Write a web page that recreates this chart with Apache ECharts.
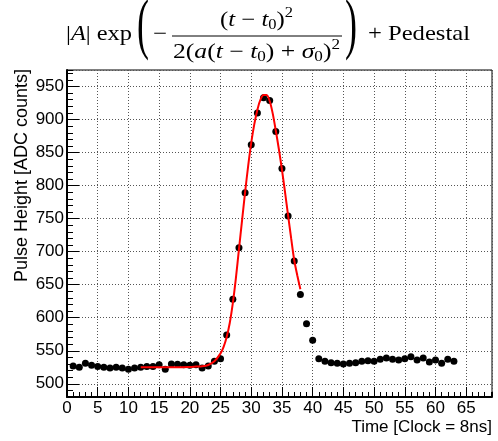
<!DOCTYPE html>
<html><head><meta charset="utf-8">
<script src="https://cdn.jsdelivr.net/npm/echarts@6/dist/echarts.min.js"></script>
<style>html,body{margin:0;padding:0;background:#fff}#c{width:498px;height:441px}</style>
</head><body><div id="c"></div>
<script>
// ---- data ----
const times = [1,2,3,4,5,6,7,8,9,10,11,12,13,14,15,16,17,18,19,20,21,22,23,24,25,26,27,28,29,30,31,32,
  33,34,35,36,37,38,39,40,41,42,43,44,45,46,47,48,49,50,51,52,53,54,55,56,57,58,59,60,61,62,63];
const heights = [527,525,531,528,526,525,524,525,524,522,524,525,526,526,529,522,530,529.5,529,528,529,524,527,534,538,
  574,628,706,789,862,910,933,929,882,826,754,686,635,591,566,
  538,534,532,531,530,531,532,534,535,534,537,539,537,536,538,541,536,539,533,536,531,537,534];
const fitTimes = [12,14,16,18,20,21,22,23,24,25,25.5,26,26.5,27,27.5,28,28.5,29,29.5,30,30.5,31,31.5,32,32.5,33,33.5,34,34.5,35,35.5,36,36.5,37,37.5,38];
const fitHeights = [525,525,525,525,525.5,526,526.5,528.5,534,546,556,571,592,622,660,704,747,790,830,865,893,915,930,937,937,928,909,883,855,824,790,755,720,687,664,643];
const xRange = [0, 69.2];
const yRange = [480, 975];
const xTitle = 'Time [Clock = 8ns]';
const yTitle = 'Pulse Height [ADC counts]';

// ---- title formula layout ----
const SERIF = '"Liberation Serif", "DejaVu Serif", serif';
const cv = document.createElement('canvas').getContext('2d');
function mathGroup(tokens, x, y, targetW, scaleY) {
  let cx = 0; const children = [];
  for (const k of tokens) {
    const size = k.s || 21;
    cv.font = (k.i ? 'italic ' : '') + size + 'px ' + SERIF;
    const w = cv.measureText(k.t).width;
    children.push({type: 'text', x: cx, y: k.dy || 0, style: {
      text: k.t, fontSize: size, fontFamily: SERIF, fontStyle: k.i ? 'italic' : 'normal',
      fill: '#000', align: 'left', verticalAlign: 'middle'}});
    cx += w;
  }
  return {type: 'group', x: x, y: y, scaleX: targetW ? targetW / cx : 1, scaleY: scaleY || 1, children: children};
}
const sub = t => ({t: t, s: 14, dy: 5});
const sup = t => ({t: t, s: 14, dy: -7});
const titleGraphics = [
  mathGroup([{t: '|'}, {t: 'A', i: 1}, {t: '|'}, {t: ' exp'}], 66, 34, 66),
  mathGroup([{t: '(', s: 28}], 137, 28, 12, 2.4),
  mathGroup([{t: '\u2212'}], 153, 34, 14),
  {type: 'line', shape: {x1: 172, y1: 36, x2: 342, y2: 36}, style: {stroke: '#000', lineWidth: 1}},
  mathGroup([{t: '('}, {t: 't', i: 1}, {t: ' \u2212 '}, {t: 't', i: 1}, sub('0'), {t: ')'}, sup('2')], 220, 20, 73),
  mathGroup([{t: '2('}, {t: 'a', i: 1}, {t: '('}, {t: 't', i: 1}, {t: ' \u2212 '}, {t: 't', i: 1}, sub('0'),
             {t: ') + '}, {t: '\u03c3', i: 1}, sub('0'), {t: ')'}, sup('2')], 173, 52, 167),
  mathGroup([{t: ')', s: 28}], 345, 28, 12, 2.4),
  mathGroup([{t: '+'}, {t: ' Pedestal'}], 368, 34, 102)
];

const SANS = '"Liberation Sans", Arial, sans-serif';
const grid = {left: 67, right: 6, top: 70, bottom: 44};
const gridLine = {show: true, lineStyle: {color: '#555', type: [1, 2], width: 1}};

const chart = echarts.init(document.getElementById('c'), null, {renderer: 'canvas'});
chart.setOption({
  animation: false,
  backgroundColor: '#fff',
  grid: Object.assign({show: true, borderColor: '#000', borderWidth: 1, backgroundColor: 'transparent'}, grid),
  xAxis: [
    {type: 'value', min: xRange[0], max: xRange[1], interval: 5, position: 'bottom',
     axisLine: {show: true, onZero: false, lineStyle: {color: '#000', width: 2}},
     axisTick: {show: true, inside: true, length: 10, lineStyle: {color: '#000'}},
     axisLabel: {fontSize: 17, color: '#000', fontFamily: SANS, margin: 3, showMaxLabel: false},
     splitLine: gridLine},
    {type: 'value', min: xRange[0], max: xRange[1], interval: 1, position: 'bottom', offset: 0,
     axisLine: {show: false}, axisTick: {show: true, inside: true, length: 5, lineStyle: {color: '#000'}},
     axisLabel: {show: false}, splitLine: {show: false}}
  ],
  yAxis: [
    {type: 'value', min: yRange[0], max: yRange[1], splitNumber: 10, position: 'left',
     axisLine: {show: true, onZero: false, lineStyle: {color: '#000', width: 2}},
     axisTick: {show: true, inside: true, length: 12, lineStyle: {color: '#000'}},
     axisLabel: {fontSize: 17, color: '#000', fontFamily: SANS, margin: 3, showMinLabel: false, showMaxLabel: false},
     splitLine: gridLine},
    {type: 'value', min: yRange[0], max: yRange[1], interval: 10, position: 'left', offset: 0,
     axisLine: {show: false}, axisTick: {show: true, inside: true, length: 6, lineStyle: {color: '#000'}},
     axisLabel: {show: false}, splitLine: {show: false}}
  ],
  graphic: titleGraphics.concat([
    {type: 'text', x: 22, y: 69, rotation: Math.PI / 2, style: {text: yTitle, fontSize: 18, fontFamily: SANS,
      fill: '#000', align: 'right', verticalAlign: 'middle'}},
    {type: 'text', x: 492, y: 427, style: {text: xTitle, fontSize: 17, fontFamily: SANS,
      fill: '#000', align: 'right', verticalAlign: 'middle'}}
  ]),
  series: [
    {type: 'scatter', xAxisIndex: 0, yAxisIndex: 0, symbol: 'circle', symbolSize: 7,
     itemStyle: {color: '#000', opacity: 1}, z: 2,
     data: times.map((t, i) => [t, heights[i]])},
    {type: 'line', xAxisIndex: 0, yAxisIndex: 0, showSymbol: false, smooth: 0.3, z: 3,
     lineStyle: {color: '#ff0000', width: 2},
     data: fitTimes.map((t, i) => [t, fitHeights[i]])}
  ]
});
</script></body></html>
